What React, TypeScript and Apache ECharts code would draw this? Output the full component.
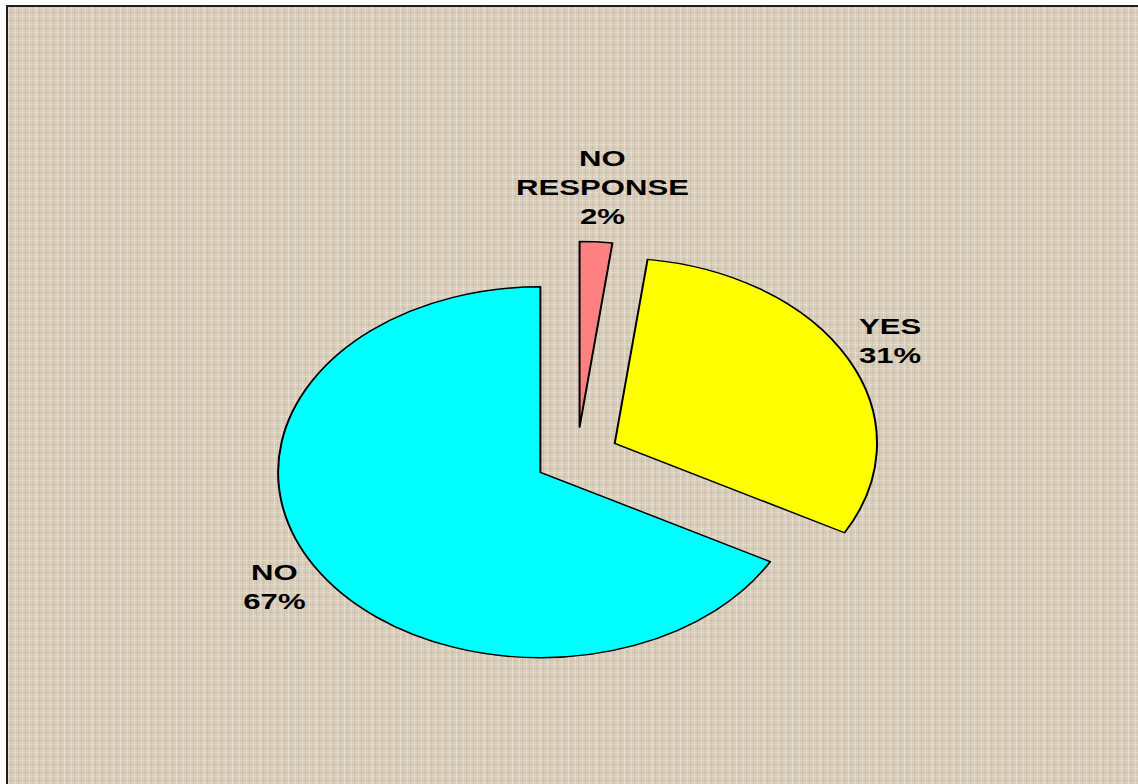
import React, { useEffect, useRef } from "react";
import * as echarts from "echarts";

const categories = ["NO RESPONSE", "YES", "NO"];
const values = [2, 31, 67];
const sliceColors = ["#FF8080", "#FFFF00", "#00FFFF"];

const STRETCH = 1.414;
const PAGE_W = 1138;
const PAGE_H = 784;
const CENTER = [408, 457];
const RADIUS = 185.5;
const EXPLODE = 30;
const LABEL_GAP = 11;
const FONT_SIZE = 22;
const LINE_H = 29;
const FONT_FAMILY = "Liberation Sans, Arial, sans-serif";

export default function App() {
  const ref = useRef<HTMLDivElement | null>(null);

  useEffect(() => {
    if (!ref.current) return;
    const chart = echarts.init(ref.current, undefined, { renderer: "svg" });
    const total = values.reduce((s, v) => s + v, 0);
    const cums: number[] = [];
    values.reduce((s, v) => {
      cums.push(s);
      return s + v;
    }, 0);
    const pct = (v: number) => Math.round((v / total) * 100);
    const labelText = (i: number) =>
      `${categories[i].replace(" ", "\n")}\n${pct(values[i])}%`;

    const canvas = document.createElement("canvas");
    const ctx = canvas.getContext("2d");
    const measure = (t: string) => {
      if (!ctx) return t.length * FONT_SIZE * 0.7;
      ctx.font = `bold ${FONT_SIZE}px "Liberation Sans", Arial, sans-serif`;
      return Math.max(...t.split("\n").map((s) => ctx.measureText(s).width));
    };

    const labels = categories.map((_, i) => {
      const a = (2 * Math.PI * (cums[i] + values[i] / 2)) / total;
      const ux = Math.sin(a);
      const uy = -Math.cos(a);
      const t = labelText(i);
      const w = measure(t);
      const h = t.split("\n").length * LINE_H;
      const dist = RADIUS + EXPLODE + LABEL_GAP;
      return {
        type: "text",
        x: CENTER[0] + ux * dist + (ux * w) / 2,
        y: CENTER[1] + uy * dist + (uy * h) / 2,
        silent: true,
        style: {
          text: t,
          align: "center",
          verticalAlign: "middle",
          fontFamily: FONT_FAMILY,
          fontWeight: "bold",
          fontSize: FONT_SIZE,
          lineHeight: LINE_H,
          fill: "#000",
        },
      };
    });

    const data = categories.map((name, i) => ({
      name,
      value: values[i],
      selected: true,
      itemStyle: { color: sliceColors[i] },
    }));

    chart.setOption({
      animation: false,
      backgroundColor: "transparent",
      graphic: labels,
      series: [
        {
          type: "pie",
          startAngle: 90,
          clockwise: true,
          center: CENTER,
          radius: RADIUS,
          selectedMode: "multiple",
          selectedOffset: EXPLODE,
          data,
          itemStyle: { borderColor: "#000", borderWidth: 1.4 },
          select: { itemStyle: { borderColor: "#000", borderWidth: 1.4 } },
          emphasis: { disabled: true },
          label: { show: false },
          labelLine: { show: false },
        },
      ],
    });
    return () => chart.dispose();
  }, []);

  const texture =
    "repeating-linear-gradient(90deg, rgba(255,250,238,0.3) 0px 1px, rgba(0,0,0,0) 1px 3px, rgba(140,125,100,0.14) 3px 4px, rgba(0,0,0,0) 4px 7px)," +
    "repeating-linear-gradient(0deg, rgba(255,250,238,0.26) 0px 1px, rgba(0,0,0,0) 1px 4px, rgba(140,125,100,0.12) 4px 5px, rgba(0,0,0,0) 5px 8px)";

  return (
    <div
      style={{
        position: "fixed",
        left: 0,
        top: 0,
        width: PAGE_W,
        height: PAGE_H,
        background: "#ffffff",
        overflow: "hidden",
      }}
    >
      <div
        style={{
          position: "absolute",
          left: 6,
          top: 5,
          width: 1200,
          height: 850,
          borderLeft: "2px solid #1e1e1e",
          borderTop: "2px solid #1e1e1e",
          backgroundColor: "#d9cebb",
          backgroundImage: texture,
        }}
      />
      <div
        ref={ref}
        style={{
          position: "absolute",
          left: 0,
          top: 0,
          width: Math.round(PAGE_W / STRETCH),
          height: PAGE_H,
          transform: `scaleX(${STRETCH})`,
          transformOrigin: "0 0",
        }}
      />
    </div>
  );
}
